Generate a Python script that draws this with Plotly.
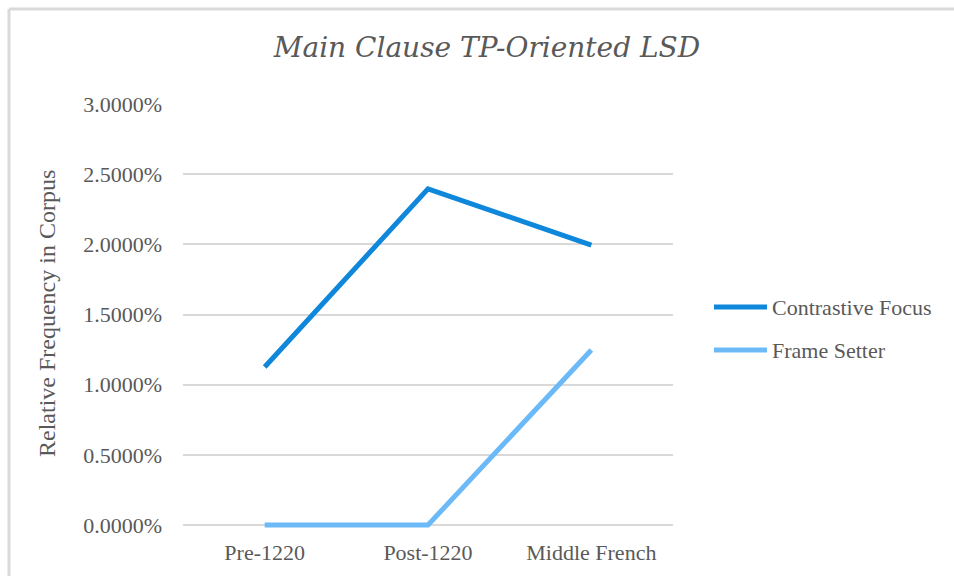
import plotly.graph_objects as go

periods = ["Pre-1220", "Post-1220", "Middle French"]
contrastive_focus = [1.126, 2.395, 1.995]
frame_setter = [0.0, 0.0, 1.247]
series_names = ["Contrastive Focus", "Frame Setter"]
series_colors = ["#0f87db", "#6cb9f7"]
y_ticks = [0.0, 0.5, 1.0, 1.5, 2.0, 2.5, 3.0]

SERIF = "Liberation Serif, DejaVu Serif, serif"
TITLE_SERIF = "DejaVu Serif, Liberation Serif, serif"
TEXT_GREY = "#595959"

fig = go.Figure()
for name, vals, col in zip(series_names, [contrastive_focus, frame_setter], series_colors):
    fig.add_trace(go.Scatter(
        x=periods, y=vals, mode="lines", name=name, cliponaxis=False,
        line=dict(color=col, width=5), showlegend=False,
    ))

# plot area in pixels: x 183..673; 3.0 at y=104, 0 at y=525,
# with a few pixels of room below zero so the zero-valued line isn't clipped
L, R, T, Y0 = 183, 673, 104, 525
PAD = 4
B = Y0 + PAD
W, H = 954, 576
Y_MAX = 3.0
Y_MIN = -Y_MAX * PAD / (Y0 - T)


def px_x(px):
    return (px - L) / (R - L)


def px_y(py):
    return (B - py) / (B - T)


shapes = []
# outer chart frame (left and top edges visible)
shapes.append(dict(type="line", xref="paper", yref="paper",
                   x0=px_x(9), x1=px_x(9), y0=px_y(9), y1=px_y(600),
                   line=dict(color="#d9d9d9", width=3)))
shapes.append(dict(type="line", xref="paper", yref="paper",
                   x0=px_x(9), x1=px_x(980), y0=px_y(9), y1=px_y(9),
                   line=dict(color="#d9d9d9", width=3)))

annotations = []
# hand-placed legend
legend_rows = [307, 350]
for name, col, ry in zip(series_names, series_colors, legend_rows):
    shapes.append(dict(type="line", xref="paper", yref="paper",
                       x0=px_x(714), x1=px_x(767), y0=px_y(ry), y1=px_y(ry),
                       line=dict(color=col, width=5)))
    annotations.append(dict(xref="paper", yref="paper", x=px_x(770), y=px_y(ry),
                            xanchor="left", yanchor="middle", showarrow=False,
                            text=name, font=dict(family=SERIF, size=22, color=TEXT_GREY)))

# vertical axis title
annotations.append(dict(xref="paper", yref="paper", x=px_x(47), y=px_y(314),
                        xanchor="center", yanchor="middle", showarrow=False, textangle=-90,
                        text="Relative Frequency in Corpus",
                        font=dict(family=SERIF, size=24, color=TEXT_GREY)))

fig.update_layout(
    width=W, height=H,
    margin=dict(l=L, r=W - R, t=T, b=H - B),
    paper_bgcolor="white", plot_bgcolor="white",
    title=dict(text="Main Clause TP-Oriented LSD", x=(277 + 697) / 2 / W, xanchor="center",
               y=1 - 47 / H, yanchor="middle",
               font=dict(family=TITLE_SERIF, size=28, color=TEXT_GREY, style="italic")),
    xaxis=dict(range=[-0.5, 2.5], showgrid=False, showline=False, zeroline=False,
               ticks="", ticklabelstandoff=8,
               tickfont=dict(family=SERIF, size=22, color=TEXT_GREY)),
    yaxis=dict(range=[Y_MIN, Y_MAX], tickvals=y_ticks,
               ticktext=[f"{v:.4f}%" for v in y_ticks],
               showgrid=True, gridcolor="#d9d9d9", gridwidth=1.5,
               zeroline=False, showline=False, ticks="", ticklabelstandoff=20,
               tickfont=dict(family=SERIF, size=22, color=TEXT_GREY)),
    shapes=shapes, annotations=annotations,
    showlegend=False,
)

fig.write_html("out.html")
